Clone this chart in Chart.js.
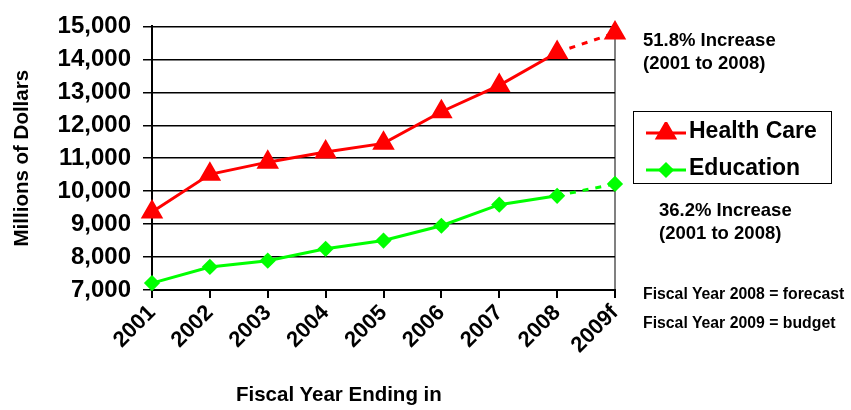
<!DOCTYPE html>
<html lang="en">
<head>
  <meta charset="UTF-8">
  <title>Health Care vs Education</title>
  <style>
    body { margin: 0; background: #fff; font-family: 'Liberation Sans', Arial, sans-serif; }
    #wrap { position: relative; width: 851px; height: 410px; }
    canvas { position: absolute; left: 0; top: 0; }
    .note { position: absolute; font-weight: bold; color: #000; white-space: nowrap; }
    .big { font-size: 18.5px; line-height: 23px; }
    .small { font-size: 15.8px; }
    #xtitle { position: absolute; left: 236px; top: 382px; font-size: 20.5px; font-weight: bold; white-space: nowrap; }
    #legend { position: absolute; left: 633px; top: 111px; width: 197px; height: 71px; border: 1px solid #000; }
    .item { position: absolute; left: 0; font-size: 23px; font-weight: bold; white-space: nowrap; }
    .item canvas { position: absolute; left: 11px; top: 5px; }
    .item span { position: absolute; left: 55px; top: 0; }
  </style>
</head>
<body>
  <div id="wrap">
    <canvas id="grafico" width="851" height="410"></canvas>
    <div class="note big" style="left:643px; top:28px;">51.8% Increase<br>(2001 to 2008)</div>
    <div class="note big" style="left:659px; top:198px;">36.2% Increase<br>(2001 to 2008)</div>
    <div class="note small" style="left:643px; top:285px;">Fiscal Year 2008 = forecast</div>
    <div class="note small" style="left:643px; top:314px;">Fiscal Year 2009 = budget</div>
    <div id="xtitle">Fiscal Year Ending in</div>
    <div id="legend">
      <div class="item" style="top:5px;"><canvas id="lgHealth" width="42" height="22"></canvas><span>Health Care</span></div>
      <div class="item" style="top:42px;"><canvas id="lgEdu" width="42" height="22"></canvas><span>Education</span></div>
    </div>
  </div>
  <script src="https://cdn.jsdelivr.net/npm/chart.js"></script>
  <script>
    const anos = ["2001", "2002", "2003", "2004", "2005", "2006", "2007", "2008", "2009f"];
    const saude = [9370, 10510, 10880, 11190, 11450, 12410, 13210, 14210, 14800];
    const educacao = [7210, 7700, 7890, 8250, 8500, 8950, 9590, 9860, 10220];
    const yTicks = [7000, 8000, 9000, 10000, 11000, 12000, 13000, 14000, 15000];

    const vermelho = '#FF0000';
    const verde = '#00FF00';
    const ultimo = anos.length - 1;
    const tracejado = ctx => ctx.p1DataIndex === ultimo ? [6, 7] : undefined;

    new Chart(document.getElementById('grafico'), {
      type: 'line',
      data: {
        labels: anos,
        datasets: [
          { label: 'Health Care', data: saude, borderColor: vermelho, backgroundColor: vermelho, borderWidth: 3,
            pointStyle: 'triangle', pointRadius: 10, pointHoverRadius: 10, segment: { borderDash: tracejado }, clip: false },
          { label: 'Education', data: educacao, borderColor: verde, backgroundColor: verde, borderWidth: 3,
            pointStyle: 'rectRot', pointRadius: 6, pointHoverRadius: 6, segment: { borderDash: tracejado }, clip: false }
        ]
      },
      options: {
        responsive: false,
        animation: false,
        layout: { padding: { top: 18, right: 236, bottom: 0, left: 10 } },
        plugins: { legend: { display: false }, tooltip: { enabled: false } },
        scales: {
          x: {
            offset: false,
            grid: { drawOnChartArea: true, color: ctx => ctx.index === ultimo ? '#808080' : 'rgba(0,0,0,0)', tickColor: '#000', tickLength: 8, lineWidth: 2 },
            border: { color: '#000', width: 2 },
            ticks: { color: '#000', font: { family: 'Liberation Sans', size: 22, weight: 'bold' }, minRotation: 45, maxRotation: 45, padding: 2 },
            afterFit: s => { s.height = 120; }
          },
          y: {
            min: 7000, max: 15000,
            afterBuildTicks: s => { s.ticks = yTicks.map(v => ({ value: v })); },
            grid: { color: '#000', lineWidth: 1.5, tickLength: 9, tickColor: '#000' },
            border: { color: '#000', width: 2 },
            ticks: { color: '#000', font: { family: 'Liberation Sans', size: 24, weight: 'bold' }, padding: 12,
              callback: v => v.toLocaleString('en-US') },
            title: { display: true, text: 'Millions of Dollars', color: '#000', font: { family: 'Liberation Sans', size: 20.5, weight: 'bold' }, padding: { top: 0, bottom: 6 } },
            afterFit: s => { s.width = 142; }
          }
        }
      }
    });

    function amostra(id, cor, forma, raio) {
      const c = document.getElementById(id).getContext('2d');
      c.strokeStyle = cor; c.fillStyle = cor; c.lineWidth = 3;
      c.beginPath(); c.moveTo(1, 11); c.lineTo(41, 11); c.stroke();
      Chart.helpers.drawPoint(c, { pointStyle: forma, radius: raio, borderWidth: 1 }, 21, 11);
    }
    amostra('lgHealth', vermelho, 'triangle', 10);
    amostra('lgEdu', verde, 'rectRot', 6);
  </script>
</body>
</html>
